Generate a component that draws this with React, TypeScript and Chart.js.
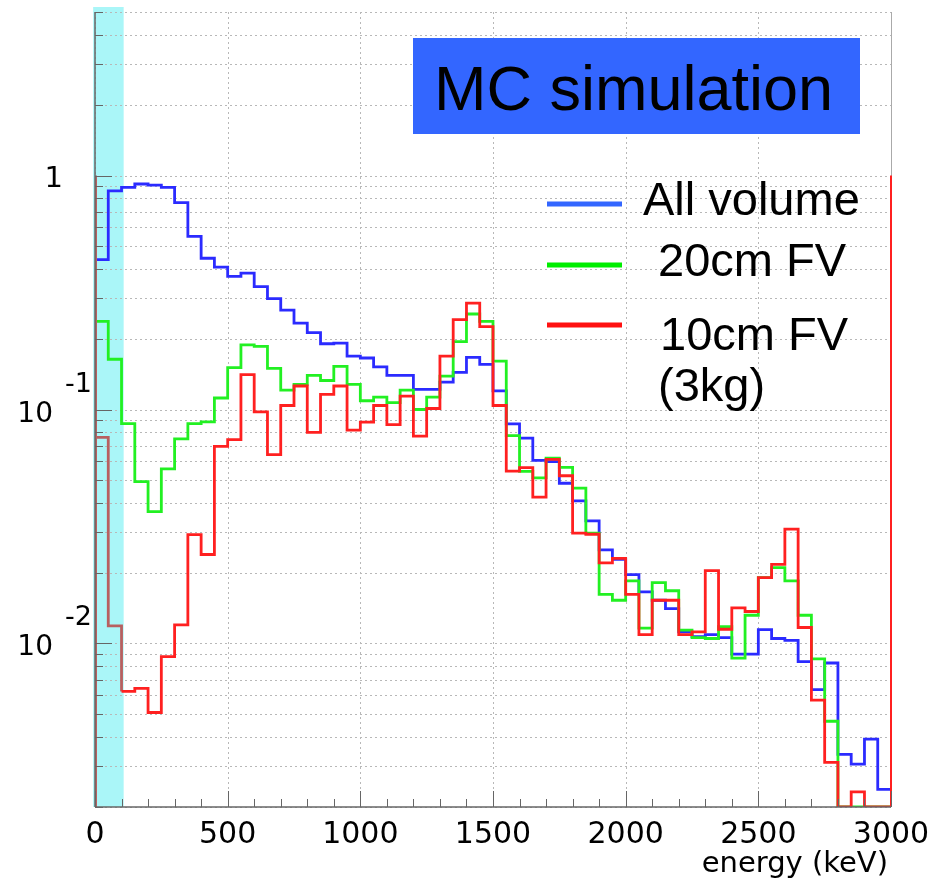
import React, { useEffect, useRef } from 'react';
import { Chart, registerables } from 'chart.js';

Chart.register(...registerables);

// ---------- data ----------
const BIN_WIDTH_KEV = 50;
const ENERGY_MIN = 0;
const ENERGY_MAX = 3000;
const Y_MIN = 0.002;
const Y_MAX = 5;

const allVolume = [
  0.437, 0.86, 0.89, 0.92, 0.91, 0.89, 0.766, 0.549, 0.443, 0.406,
  0.371, 0.383, 0.335, 0.298, 0.266, 0.234, 0.213, 0.191, 0.192, 0.169,
  0.166, 0.152, 0.14, 0.14, 0.122, 0.122, 0.131, 0.144, 0.167, 0.156,
  0.12, 0.0868, 0.0755, 0.0606, 0.0599, 0.0484, 0.0407, 0.0334, 0.0251, 0.0229,
  0.0197, 0.0166, 0.0153, 0.0141, 0.0112, 0.0107, 0.0109, 0.0106, 0.009, 0.009,
  0.01145, 0.0105, 0.0103, 0.00837, 0.00635, 0.00825, 0.00336, 0.00305, 0.0039, 0.00238,
];

const fv20cm = [
  0.238, 0.164, 0.0871, 0.0492, 0.0366, 0.0558, 0.0749, 0.0871, 0.0886, 0.112,
  0.151, 0.189, 0.186, 0.15, 0.121, 0.128, 0.14, 0.133, 0.153, 0.128,
  0.109, 0.113, 0.107, 0.121, 0.1, 0.113, 0.139, 0.195, 0.256, 0.238,
  0.161, 0.0774, 0.0544, 0.051, 0.0619, 0.0566, 0.0461, 0.0296, 0.0162, 0.0153,
  0.0185, 0.01164, 0.0182, 0.0168, 0.0114, 0.0106, 0.0105, 0.0118, 0.00865, 0.0132,
  0.0191, 0.0211, 0.0185, 0.0132, 0.0086, 0.00465, 0, 0, 0, 0,
];

const fv10cm = [
  0.076, 0.0119, 0.00624, 0.00643, 0.00507, 0.00879, 0.012, 0.0292, 0.024, 0.0696,
  0.0744, 0.141, 0.0977, 0.0641, 0.104, 0.126, 0.0799, 0.116, 0.126, 0.0817,
  0.0884, 0.104, 0.0862, 0.114, 0.0769, 0.101, 0.169, 0.242, 0.285, 0.226,
  0.104, 0.0545, 0.0564, 0.0422, 0.0612, 0.0521, 0.0296, 0.0293, 0.0221, 0.0231,
  0.0162, 0.0109, 0.0153, 0.0153, 0.0109, 0.0112, 0.0205, 0.0115, 0.0142, 0.0137,
  0.0191, 0.0218, 0.0308, 0.0117, 0.00573, 0.0031, 0, 0.00232, 0, 0,
];

const seriesLabels = ['All volume', '20cm FV', '10cm FV', '(3kg)'];
const xTickValues = [0, 500, 1000, 1500, 2000, 2500, 3000];
const xTickLabels = ['0', '500', '1000', '1500', '2000', '2500', '3000'];
const yDecadeValues = [1, 0.1, 0.01];
const yDecadeBase = ['1', '10', '10'];
const yDecadeExp = ['', '-1', '-2'];
const xAxisTitle = 'energy (keV)';
const boxTitle = 'MC simulation';
const CUT_BAND_KEV = [-7, 108];

// ---------- styles ----------
const BLUE = '#2b2bff';
const GREEN = '#22f022';
const RED = '#ff2020';
const RED_IN_BAND = '#b86060';
const CYAN = '#aaf6f8';
const GRID = '#b8b8b8';
const AXIS = '#666666';

function toPoints(values: number[]) {
  const pts: { x: number; y: number }[] = [];
  for (let i = 0; i <= values.length; i++) {
    const v = values[Math.min(i, values.length - 1)];
    pts.push({ x: ENERGY_MIN + i * BIN_WIDTH_KEV, y: v > 0 ? v : Y_MIN });
  }
  return pts;
}

function gridValuesLog(): number[] {
  const out: number[] = [];
  for (let e = -3; e <= 0; e++) {
    for (let m = 1; m <= 9; m++) {
      const v = m * Math.pow(10, e);
      if (v >= Y_MIN - 1e-12 && v <= Y_MAX + 1e-12) out.push(v);
    }
  }
  return out;
}

const overlayPlugin = {
  id: 'overlay',
  beforeDraw(chart: any) {
    const { ctx, chartArea: a, scales } = chart;
    const x = scales.x;
    ctx.save();
    ctx.fillStyle = CYAN;
    const x0 = x.getPixelForValue(CUT_BAND_KEV[0]);
    const x1 = x.getPixelForValue(CUT_BAND_KEV[1]);
    ctx.fillRect(x0, a.top - 5, x1 - x0, a.bottom - a.top + 5);
    ctx.restore();
  },
  beforeDatasetsDraw(chart: any) {
    const { ctx, chartArea: a, scales } = chart;
    const x = scales.x;
    const y = scales.y;
    ctx.save();
    ctx.strokeStyle = GRID;
    ctx.lineWidth = 1;
    ctx.setLineDash([2, 3]);
    for (const v of gridValuesLog()) {
      const py = Math.round(y.getPixelForValue(v)) + 0.5;
      ctx.beginPath();
      ctx.moveTo(a.left, py);
      ctx.lineTo(a.right, py);
      ctx.stroke();
    }
    for (const v of xTickValues) {
      const px = Math.round(x.getPixelForValue(v)) + 0.5;
      ctx.beginPath();
      ctx.moveTo(px, a.top);
      ctx.lineTo(px, a.bottom);
      ctx.stroke();
    }
    ctx.restore();
  },
  afterDatasetsDraw(chart: any) {
    const { ctx, chartArea: a, scales } = chart;
    const x = scales.x;
    const y = scales.y;
    ctx.save();
    ctx.setLineDash([]);

    // right frame
    ctx.strokeStyle = '#aaaaaa';
    ctx.lineWidth = 1;
    ctx.beginPath();
    ctx.moveTo(Math.round(a.right) + 0.5, a.top);
    ctx.lineTo(Math.round(a.right) + 0.5, a.bottom);
    ctx.stroke();

    // red vertical edges from y=1 down
    const pyOne = y.getPixelForValue(1);
    ctx.lineWidth = 2;
    ctx.strokeStyle = RED_IN_BAND;
    ctx.beginPath();
    ctx.moveTo(x.getPixelForValue(ENERGY_MIN) + 1, pyOne);
    ctx.lineTo(x.getPixelForValue(ENERGY_MIN) + 1, a.bottom);
    ctx.stroke();
    ctx.strokeStyle = RED;
    ctx.beginPath();
    ctx.moveTo(x.getPixelForValue(ENERGY_MAX), pyOne);
    ctx.lineTo(x.getPixelForValue(ENERGY_MAX), a.bottom);
    ctx.stroke();

    // axes
    ctx.strokeStyle = AXIS;
    ctx.lineWidth = 1.5;
    ctx.beginPath();
    ctx.moveTo(a.left, a.bottom);
    ctx.lineTo(a.right, a.bottom);
    ctx.stroke();
    ctx.beginPath();
    ctx.moveTo(a.left, a.top);
    ctx.lineTo(a.left, a.bottom);
    ctx.stroke();

    // x ticks (inside)
    ctx.lineWidth = 1;
    for (let e = ENERGY_MIN; e <= ENERGY_MAX; e += 100) {
      const px = Math.round(x.getPixelForValue(e)) + 0.5;
      const len = e % 500 === 0 ? 16 : 8;
      ctx.beginPath();
      ctx.moveTo(px, a.bottom);
      ctx.lineTo(px, a.bottom - len);
      ctx.stroke();
    }
    // y ticks (inside)
    for (const v of gridValuesLog()) {
      const py = Math.round(y.getPixelForValue(v)) + 0.5;
      const isDecade = Math.abs(Math.log10(v) - Math.round(Math.log10(v))) < 1e-9;
      ctx.beginPath();
      ctx.moveTo(a.left, py);
      ctx.lineTo(a.left + (isDecade ? 17 : 8), py);
      ctx.stroke();
    }

    // x tick labels
    ctx.fillStyle = '#000';
    ctx.font = '30px "DejaVu Sans"';
    ctx.textAlign = 'center';
    ctx.textBaseline = 'alphabetic';
    xTickValues.forEach((v, i) => {
      ctx.fillText(xTickLabels[i], x.getPixelForValue(v), a.bottom + 36);
    });

    // x title
    ctx.font = '29px "DejaVu Sans"';
    ctx.textAlign = 'right';
    ctx.fillText(xAxisTitle, 888, a.bottom + 65);

    // y labels
    yDecadeValues.forEach((v, i) => {
      const py = y.getPixelForValue(v);
      if (yDecadeExp[i] === '') {
        ctx.font = '29px "DejaVu Sans"';
        ctx.textAlign = 'right';
        ctx.fillText(yDecadeBase[i], 63, py + 11);
      } else {
        ctx.font = '28px "DejaVu Sans"';
        ctx.textAlign = 'right';
        ctx.fillText(yDecadeBase[i], 53, py + 12);
        ctx.font = '27px "DejaVu Sans"';
        ctx.textAlign = 'left';
        ctx.fillText(yDecadeExp[i], 65, py - 18);
      }
    });

    // MC simulation box
    ctx.fillStyle = '#3366ff';
    ctx.fillRect(413, 38, 447, 96);
    ctx.fillStyle = '#000';
    ctx.font = '63px "Liberation Sans"';
    ctx.textAlign = 'left';
    ctx.fillText(boxTitle, 434, 110);

    // legend
    const legendColors = ['#3366ff', '#00ee00', '#ff1111'];
    const legendY = [204, 265, 325];
    ctx.lineWidth = 5;
    legendColors.forEach((c, i) => {
      ctx.strokeStyle = c;
      ctx.beginPath();
      ctx.moveTo(547, legendY[i]);
      ctx.lineTo(622, legendY[i]);
      ctx.stroke();
    });
    ctx.fillStyle = '#000';
    ctx.font = '47px "Liberation Sans"';
    ctx.fillText(seriesLabels[0], 643, 215);
    ctx.fillText(seriesLabels[1], 658, 276);
    ctx.fillText(seriesLabels[2], 660, 350);
    ctx.fillText(seriesLabels[3], 658, 401);

    ctx.restore();
  },
};

export default function App() {
  const canvasRef = useRef<HTMLCanvasElement | null>(null);

  useEffect(() => {
    if (!canvasRef.current) return;
    const chart = new Chart(canvasRef.current, {
      type: 'line',
      data: {
        datasets: [
          {
            label: seriesLabels[0],
            data: toPoints(allVolume),
            borderColor: BLUE,
            borderWidth: 2.8,
            stepped: true,
            pointRadius: 0,
            fill: false,
            order: 3,
          },
          {
            label: seriesLabels[1],
            data: toPoints(fv20cm),
            borderColor: GREEN,
            borderWidth: 2.8,
            stepped: true,
            pointRadius: 0,
            fill: false,
            order: 2,
          },
          {
            label: seriesLabels[2],
            data: toPoints(fv10cm),
            borderColor: RED,
            borderWidth: 2.8,
            stepped: true,
            pointRadius: 0,
            fill: false,
            order: 1,
            segment: {
              borderColor: (c: any) => (c.p1.parsed.x <= 100 ? RED_IN_BAND : undefined),
            },
          },
        ],
      },
      options: {
        responsive: false,
        animation: false,
        devicePixelRatio: 1,
        layout: { padding: { top: 12, right: 42, left: 0, bottom: 0 } },
        plugins: { legend: { display: false }, tooltip: { enabled: false } },
        scales: {
          x: {
            type: 'linear',
            min: ENERGY_MIN,
            max: ENERGY_MAX,
            grid: { display: false },
            border: { display: false },
            ticks: { display: false },
            afterFit: (s: any) => {
              s.height = 73;
            },
          },
          y: {
            type: 'logarithmic',
            min: Y_MIN,
            max: Y_MAX,
            grid: { display: false },
            border: { display: false },
            ticks: { display: false },
            afterFit: (s: any) => {
              s.width = 95;
            },
          },
        },
      },
      plugins: [overlayPlugin],
    } as any);
    return () => chart.destroy();
  }, []);

  return (
    <div style={{ position: 'absolute', left: 0, top: 0, width: 933, height: 880, background: '#fff' }}>
      <canvas ref={canvasRef} width={933} height={880} style={{ display: 'block' }} />
    </div>
  );
}
